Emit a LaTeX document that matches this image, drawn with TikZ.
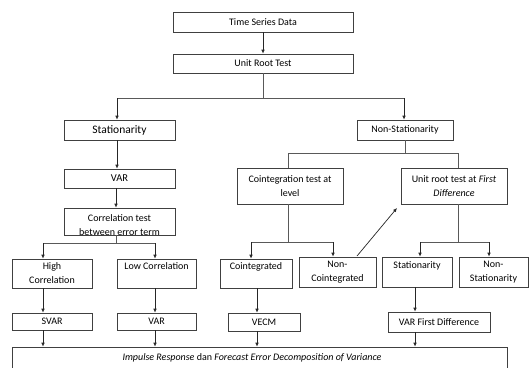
\documentclass[tikz,border=0pt]{standalone}
\usepackage{fontspec}
\setmainfont{Carlito}
\usetikzlibrary{arrows.meta}
\begin{document}
\begin{tikzpicture}[x=1pt,y=-1pt,
 box/.style={draw=black!75, line width=0.7pt, rectangle, inner sep=0pt, align=center, font=\fontsize{10}{14}\selectfont},
 txt/.style={inner sep=0pt, align=center, font=\fontsize{10}{13.5}\selectfont},
 arr/.style={-{Latex[length=4pt,width=3.6pt]}, line width=0.7pt, black!85},
 ln/.style={line width=0.7pt, black!65}]
\useasboundingbox (0,0) rectangle (529,367);
% boxes
\node[box, minimum width=180, minimum height=20] (tsd) at (263,22) {Time Series Data};
\node[box, minimum width=180, minimum height=19] (urt) at (263,63.5) {Unit Root Test};
\node[box, minimum width=111, minimum height=20, font=\fontsize{11.5}{14}\selectfont] (stat) at (119.5,130) {Stationarity};
\node[box, minimum width=96, minimum height=20] (nonstat) at (405,130) {Non-Stationarity};
\node[box, minimum width=111, minimum height=19, font=\fontsize{10.5}{14}\selectfont] (var1) at (119.5,178.5) {VAR};
\node[box, minimum width=111, minimum height=27] (corr) at (119.5,221.5) {};
\node[txt] (corrlbl) at (119.5,225) {Correlation test\\between error term};
\node[box, minimum width=106, minimum height=36] (coint) at (290,186) {Cointegration test at\\level};
\node[box, minimum width=106, minimum height=36] (urfd) at (454,186) {Unit root test at \textit{First}\\\textit{Difference}};
\node[box, minimum width=80, minimum height=29] (high) at (52,273.5) {High\\Correlation};
\node[box, minimum width=79, minimum height=29] (low) at (156.5,273.5) {Low Correlation\\~};
\node[box, minimum width=72, minimum height=29] (cointd) at (256,273.5) {Cointegrated\\~};
\node[box, minimum width=77, minimum height=30] (noncoint) at (337.5,272) {Non-\\Cointegrated};
\node[box, minimum width=70, minimum height=30] (stat2) at (417,272) {Stationarity\\~};
\node[box, minimum width=69, minimum height=30] (nonstat2) at (493.5,272) {Non-\\Stationarity};
\node[box, minimum width=80, minimum height=17] (svar) at (52,321.5) {SVAR};
\node[box, minimum width=79, minimum height=17] (var2) at (156.5,321.5) {VAR};
\node[box, minimum width=72, minimum height=18] (vecm) at (264,322) {VECM};
\node[box, minimum width=102, minimum height=20] (varfd) at (439,322) {VAR First Difference};
\node[box, minimum width=495, minimum height=26] (irf) at (259.5,360) {};
\node[txt] (irflbl) at (252,358) {\textit{Impulse Response} dan \textit{Forecast Error Decomposition of Variance}};
% helper coordinates
\coordinate (h1) at (0,98);
\coordinate (h2) at (0,153);
\coordinate (h3) at (0,243);
\coordinate (h4) at (0,242);
\coordinate (xa) at (43,0);
\coordinate (xb) at (155,0);
\coordinate (xc) at (251,0);
\coordinate (xd) at (333,0);
\coordinate (xe) at (420,0);
\coordinate (xf) at (489,0);
\coordinate (xc2) at (257,0);
\coordinate (xe2) at (415,0);
\coordinate (xs) at (117,0);
\coordinate (xn) at (404,0);
\coordinate (xk) at (116,0);
\coordinate (xco) at (288,0);
\coordinate (xu) at (458,0);
\coordinate (dA) at (357,256);
\coordinate (dB) at (397,208);
% connectors
\draw[arr] (tsd) -- (urt);
\draw[ln] (urt.south) -- (urt.south |- h1);
\draw[ln] (h1 -| xs) -- (h1 -| xn);
\draw[arr] (h1 -| xs) -- (stat.north -| xs);
\draw[arr] (h1 -| xn) -- (nonstat.north -| xn);
\draw[arr] (stat.south -| xs) -- (var1.north -| xs);
\draw[arr] (var1.south -| xk) -- (corr.north -| xk);
\draw[ln] (corr.south -| xk) -- (h3 -| xk);
\draw[ln] (h3 -| xa) -- (h3 -| xb);
\draw[arr] (h3 -| xa) -- (high.north -| xa);
\draw[arr] (h3 -| xb) -- (low.north -| xb);
\draw[ln] (nonstat.south) -- (nonstat.south |- h2);
\draw[ln] (coint.north -| xco) -- (h2 -| xco) -- (h2 -| xu) -- (urfd.north -| xu);
\draw[ln] (coint.south -| xco) -- (h4 -| xco);
\draw[ln] (h4 -| xc) -- (h4 -| xd);
\draw[arr] (h4 -| xc) -- (cointd.north -| xc);
\draw[arr] (h4 -| xd) -- (noncoint.north -| xd);
\draw[ln] (urfd.south -| xu) -- (h4 -| xu);
\draw[ln] (h4 -| xe) -- (h4 -| xf);
\draw[arr] (h4 -| xe) -- (stat2.north -| xe);
\draw[arr] (h4 -| xf) -- (nonstat2.north -| xf);
\draw[arr] (dA) -- (dB);
\draw[arr] (high.south -| xa) -- (svar.north -| xa);
\draw[arr] (low.south -| xb) -- (var2.north -| xb);
\draw[arr] (cointd.south -| xc2) -- (vecm.north -| xc2);
\draw[arr] (stat2.south -| xe2) -- (varfd.north -| xe2);
\draw[arr] (svar.south -| xa) -- (irf.north -| xa);
\draw[arr] (var2.south -| xb) -- (irf.north -| xb);
\draw[arr] (vecm.south -| xc2) -- (irf.north -| xc2);
\draw[arr] (varfd.south -| xe2) -- (irf.north -| xe2);
\end{tikzpicture}
\end{document}
